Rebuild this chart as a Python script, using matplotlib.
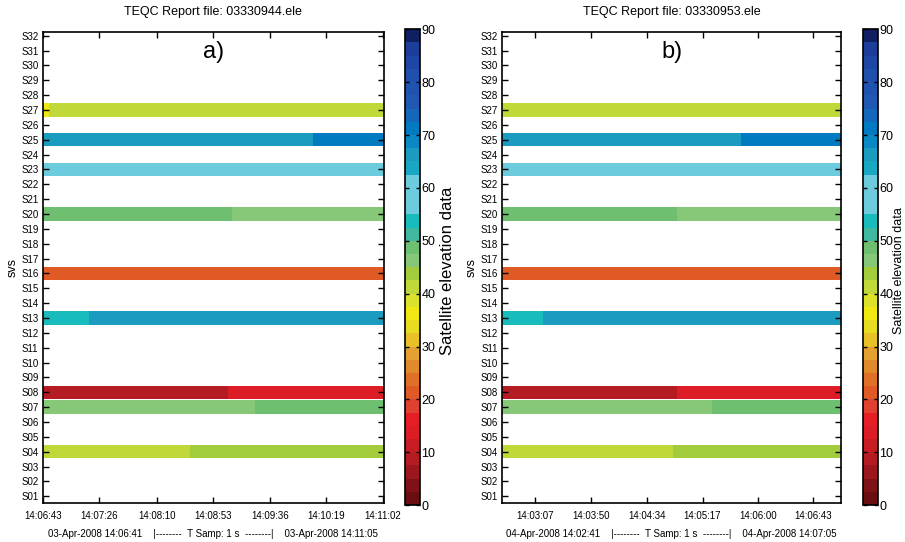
import matplotlib
matplotlib.use('Agg')
import matplotlib.pyplot as plt
from matplotlib.colors import ListedColormap, Normalize
from matplotlib.cm import ScalarMappable

plt.rcParams['font.family'] = ['Liberation Sans Narrow', 'Liberation Sans', 'DejaVu Sans']


def secs(t):
    h, m, s = map(int, t.split(':'))
    return h * 3600 + m * 60 + s


sv_labels = ['S%02d' % i for i in range(1, 33)]

# 2.5 degree steps, 0 -> 90
elev_colors = ['#6a0e12', '#7e1216', '#9c171d', '#b41b23',
               '#c81c25', '#dc1d26', '#e41e24', '#e04030',
               '#e05a25', '#e07028', '#e08a2c', '#e4a030',
               '#e8c028', '#e8dc20', '#f0e812', '#dce22a',
               '#c0d838', '#a2cc3c', '#86c878', '#6ec070',
               '#40b8a0', '#18bcbc', '#6ccbdc', '#6ccbdc',
               '#6ccbdc', '#18a8c4', '#1a9bbf', '#0a88c4',
               '#007ac0', '#1468bc', '#2058b4', '#2052b0',
               '#2050ac', '#1e46a4', '#1c3e9a', '#101e62']

# panel a
a_title = 'TEQC Report file: 03330944.ele'
a_tag = 'a)'
a_xlim = ['14:06:43', '14:11:03']
a_ticks = ['14:06:43', '14:07:26', '14:08:10', '14:08:53', '14:09:36', '14:10:19', '14:11:02']
a_sv = [27, 27, 25, 25, 23, 20, 20, 16, 13, 13, 8, 8, 7, 7, 4, 4]
a_start = ['14:06:43', '14:06:48', '14:06:43', '14:10:09', '14:06:43', '14:06:43', '14:09:07', '14:06:43',
           '14:06:43', '14:07:18', '14:06:43', '14:09:04', '14:06:43', '14:09:25', '14:06:43', '14:08:35']
a_end = ['14:06:48', '14:11:03', '14:10:09', '14:11:03', '14:11:03', '14:09:07', '14:11:03', '14:11:03',
         '14:07:18', '14:11:03', '14:09:04', '14:11:03', '14:09:25', '14:11:03', '14:08:35', '14:11:03']
a_elev = [36, 41, 66, 71, 58, 48.5, 46, 21, 53.5, 66, 9, 13.5, 46, 48.5, 41, 43.5]
a_footer = '03-Apr-2008 14:06:41    |--------  T Samp: 1 s  --------|    03-Apr-2008 14:11:05'

# panel b
b_title = 'TEQC Report file: 03330953.ele'
b_tag = 'b)'
b_xlim = ['14:02:41', '14:07:05']
b_ticks = ['14:03:07', '14:03:50', '14:04:34', '14:05:17', '14:06:00', '14:06:43']
b_sv = [27, 25, 25, 23, 20, 20, 16, 13, 13, 8, 8, 7, 7, 4, 4]
b_start = ['14:02:41', '14:02:41', '14:05:47', '14:02:41', '14:02:41', '14:04:57', '14:02:41',
           '14:02:41', '14:03:13', '14:02:41', '14:04:57', '14:02:41', '14:05:24', '14:02:41', '14:04:54']
b_end = ['14:07:05', '14:05:47', '14:07:05', '14:07:05', '14:04:57', '14:07:05', '14:07:05',
         '14:03:13', '14:07:05', '14:04:57', '14:07:05', '14:05:24', '14:07:05', '14:04:54', '14:07:05']
b_elev = [41, 66, 71, 58, 48.5, 46, 21, 53.5, 66, 9, 13.5, 46, 48.5, 41, 43.5]
b_footer = '04-Apr-2008 14:02:41    |--------  T Samp: 1 s  --------|    04-Apr-2008 14:07:05'

cmap = ListedColormap(elev_colors)
norm = Normalize(0, 90)

fig = plt.figure(figsize=(9.05, 5.42), dpi=100)


def panel(ax_rect, cb_rect, title, tag, xlim, ticks, sv, start, end, elev, footer,
          cb_label_x, cb_label_size):
    ax = fig.add_axes(ax_rect)
    for s, t0, t1, e in zip(sv, start, end, elev):
        ax.barh(s, secs(t1) - secs(t0), left=secs(t0), height=0.9,
                color=cmap(norm(e)), edgecolor='none')
    ax.set_xlim(secs(xlim[0]), secs(xlim[1]))
    ax.set_ylim(0.55, 32.25)
    ax.set_yticks(range(1, 33))
    ax.set_yticklabels(sv_labels, fontsize=7)
    ax.set_xticks([secs(t) for t in ticks])
    ax.set_xticklabels(ticks, fontsize=7)
    ax.tick_params(direction='in', top=True, right=True, length=4, width=1, pad=3)
    ax.tick_params(axis='x', pad=6)
    for sp in ax.spines.values():
        sp.set_linewidth(1.2)
    ax.set_ylabel('svs', fontsize=9, labelpad=2)
    ax.set_title(title, fontsize=9, pad=12)
    ax.text(0.5, 0.98, tag, transform=ax.transAxes, fontsize=17,
            ha='center', va='top')
    ax.text(0.5, -0.066, footer, transform=ax.transAxes, fontsize=7,
            ha='center', va='center')

    cax = fig.add_axes(cb_rect)
    cb = fig.colorbar(ScalarMappable(norm=norm, cmap=cmap), cax=cax)
    cb.set_ticks(range(0, 91, 10))
    cb.ax.tick_params(direction='in', left=True, right=True, length=3, width=1,
                      labelsize=9, pad=1)
    cb.outline.set_linewidth(1.2)
    fig.text(cb_label_x, 0.5, 'Satellite elevation data', rotation=90,
             fontsize=cb_label_size, ha='center', va='center',
             family=['Liberation Sans', 'DejaVu Sans'])
    return ax


panel([0.0472, 0.072, 0.377, 0.869], [0.4475, 0.068, 0.0166, 0.878],
      a_title, a_tag, a_xlim, a_ticks, a_sv, a_start, a_end, a_elev, a_footer, 0.494, 12)
panel([0.5547, 0.072, 0.375, 0.869], [0.9536, 0.068, 0.0166, 0.878],
      b_title, b_tag, b_xlim, b_ticks, b_sv, b_start, b_end, b_elev, b_footer, 0.9935, 9)

fig.savefig('out.png', dpi=100)
